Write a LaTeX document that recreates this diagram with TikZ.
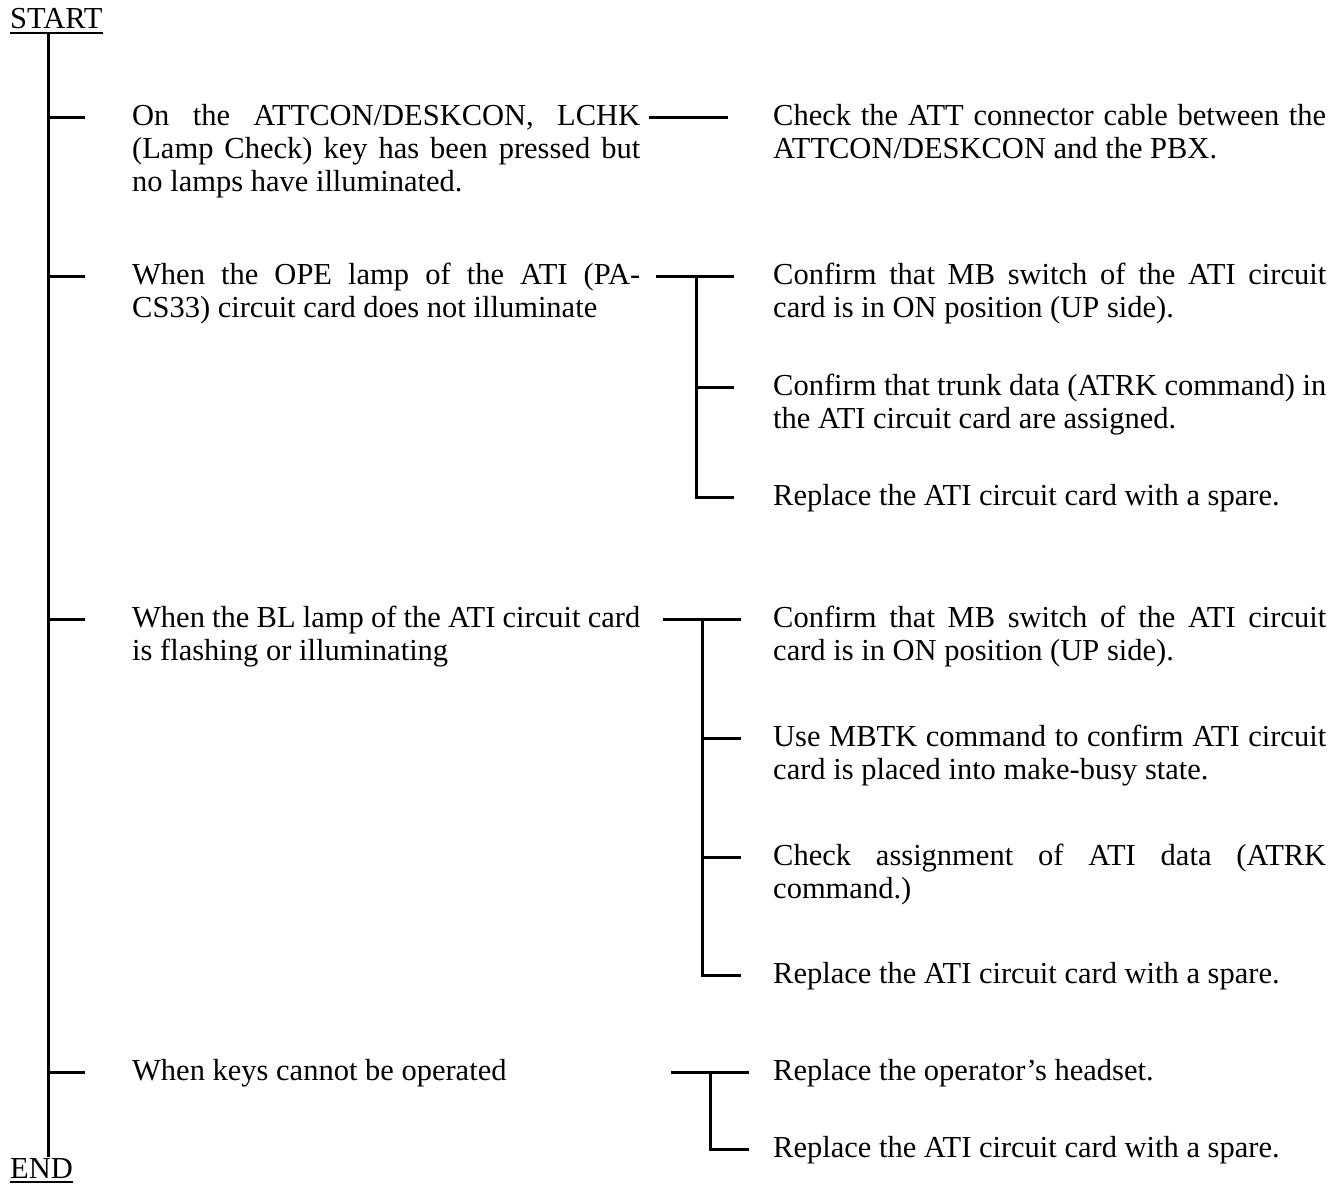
\documentclass[tikz,border=0pt]{standalone}
\usepackage{fontspec}
\setmainfont{Liberation Serif}
\usetikzlibrary{calc}
\hbadness=10000
\hfuzz=20pt
\begin{document}
\begin{tikzpicture}[x=1pt,y=-1pt,
  ln/.style={line width=3pt},
  uln/.style={line width=1.5pt},
  txt/.style={anchor=base west, inner sep=0pt, font=\fontsize{30.5}{33}\selectfont},
  ltext/.style={txt, text width=508pt, align=justify},
  rtext/.style={txt, text width=553pt, align=justify}]
\useasboundingbox (0,0) rectangle (1330,1185);

% start / end
\node[txt] (start) at (10,29) {START};
\node[txt] (end) at (10,1178) {END};
\draw[uln] ([yshift=-4pt]start.base west) -- ([yshift=-4pt]start.base east);
\draw[uln] ([yshift=-4pt]end.base west) -- ([yshift=-4pt]end.base east);
\coordinate (spinetop) at (48,33);
\coordinate (spinebot) at (48,1157);
\draw[ln] (spinetop) -- (spinebot);

% left column
\node[ltext] (L1) at (132,126) {On the ATTCON/DESKCON, LCHK\linebreak (Lamp Check) key has been pressed but\linebreak no lamps have illuminated.};
\node[ltext] (L2) at (132,284) {When the OPE lamp of the ATI (PA-\linebreak CS33) circuit card does not illuminate};
\node[ltext] (L3) at (132,627) {When the BL lamp of the ATI circuit card\linebreak is flashing or illuminating};
\node[ltext] (L4) at (132,1080) {When keys cannot be operated};
\foreach \n in {L1,L2,L3,L4}{
  \draw[ln] ($(\n.base west)+(-84,-8)$) -- ($(\n.base west)+(-47,-8)$);
}

% right column
\node[rtext] (R1) at (773,126) {Check the ATT connector cable between the\linebreak ATTCON/DESKCON and the PBX.};
\node[rtext] (R2a) at (773,284) {Confirm that MB switch of the ATI circuit\linebreak card is in ON position (UP side).};
\node[rtext] (R2b) at (773,395) {Confirm that trunk data (ATRK command) in\linebreak the ATI circuit card are assigned.};
\node[rtext] (R2c) at (773,505) {Replace the ATI circuit card with a spare.};
\node[rtext] (R3a) at (773,627) {Confirm that MB switch of the ATI circuit\linebreak card is in ON position (UP side).};
\node[rtext] (R3b) at (773,746) {Use MBTK command to confirm ATI circuit\linebreak card is placed into make-busy state.};
\node[rtext] (R3c) at (773,865) {Check assignment of ATI data (ATRK\linebreak command.)};
\node[rtext] (R3d) at (773,983) {Replace the ATI circuit card with a spare.};
\node[rtext] (R4a) at (773,1080) {Replace the operator’s headset.};
\node[rtext] (R4b) at (773,1157) {Replace the ATI circuit card with a spare.};

% branch 1
\draw[ln] ($(R1.base west)+(-124,-8)$) -- ($(R1.base west)+(-45,-8)$);
% branch 2
\draw[ln] ($(R2a.base west)+(-117,-8)$) -- ($(R2a.base west)+(-39,-8)$);
\draw[ln] ($(R2a.base west)+(-77,-8)$) |- ($(R2c.base west)+(-39,-8)$);
\draw[ln] ($(R2b.base west)+(-77,-8)$) -- ($(R2b.base west)+(-39,-8)$);
% branch 3
\draw[ln] ($(R3a.base west)+(-110,-8)$) -- ($(R3a.base west)+(-32,-8)$);
\draw[ln] ($(R3a.base west)+(-71,-8)$) |- ($(R3d.base west)+(-32,-8)$);
\draw[ln] ($(R3b.base west)+(-71,-8)$) -- ($(R3b.base west)+(-32,-8)$);
\draw[ln] ($(R3c.base west)+(-71,-8)$) -- ($(R3c.base west)+(-32,-8)$);
% branch 4
\draw[ln] ($(R4a.base west)+(-102,-8)$) -- ($(R4a.base west)+(-24,-8)$);
\draw[ln] ($(R4a.base west)+(-63,-8)$) |- ($(R4b.base west)+(-24,-8)$);
\end{tikzpicture}
\end{document}
